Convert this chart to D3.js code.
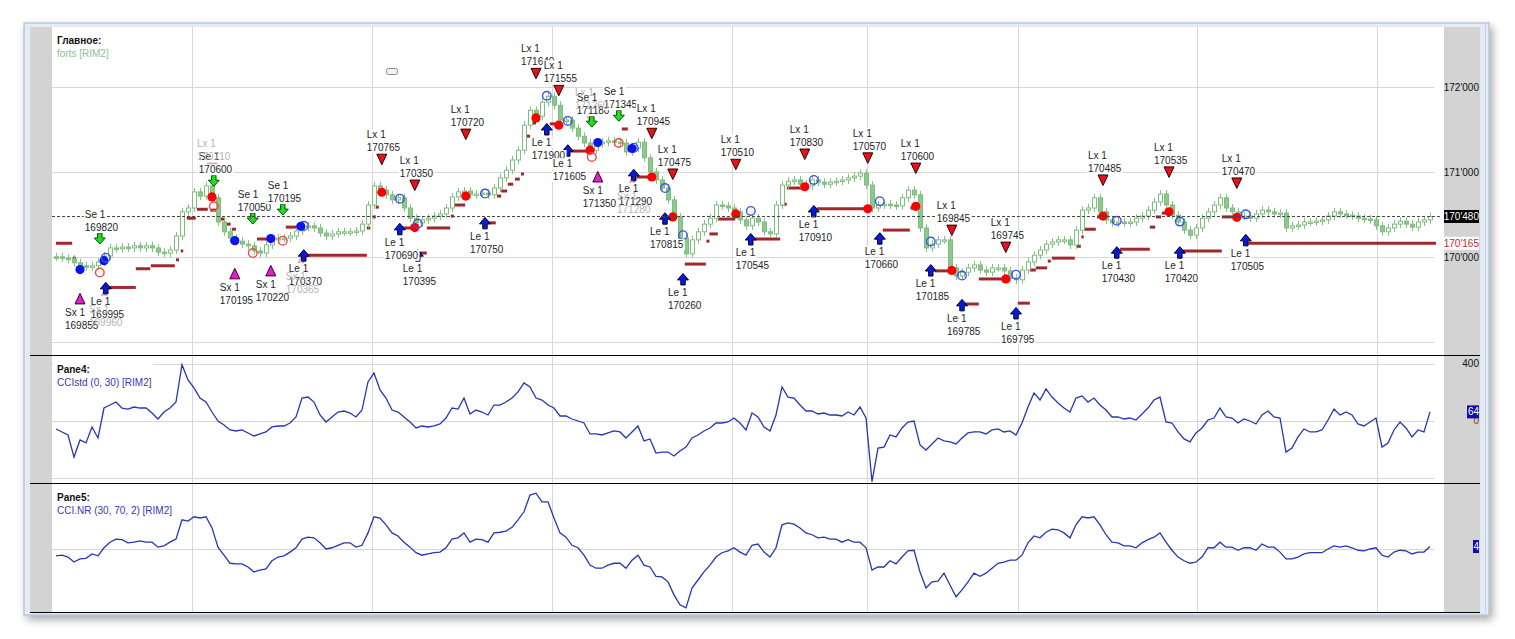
<!DOCTYPE html>
<html>
<head>
<meta charset="utf-8">
<script src="https://cdn.jsdelivr.net/npm/d3@7"></script>
<style>
  body { margin: 0; background: #fff; }
  svg { display: block; font-family: 'Liberation Sans', Arial, sans-serif; }
</style>
</head>
<body>
<script>
// closes of the RIM2 bars
const closes = [
  170005,169990,169980,169935,169900,169885,169900,169945,170015,170110,
  170100,170120,170110,170135,170110,170135,170110,170060,170050,170085,
  170250,170535,170580,170770,170720,170840,170700,170415,170300,170225,
  170190,170155,170135,170075,170050,170145,170205,170225,170225,170250,
  170310,170355,170370,170345,170285,170250,170275,170300,170300,170300,
  170310,170390,170615,170840,170790,170735,170675,170700,170580,170460,
  170405,170440,170460,170485,170510,170580,170710,170770,170780,170735,
  170745,170755,170735,170815,170935,171025,171145,171260,171555,171730,
  171660,171825,171895,171790,171615,171615,171520,171425,171345,171260,
  171335,171355,171370,171355,171345,171240,171285,171355,171170,171005,
  170910,170815,170675,170475,170225,170040,170205,170300,170390,170460,
  170615,170605,170580,170535,170440,170370,170460,170415,170300,170275,
  170615,170850,170895,170910,170860,170840,170910,170885,170860,170885,
  170895,170910,170935,170955,170990,170850,170580,170615,170625,170615,
  170605,170700,170790,170735,170345,170110,170155,170205,170205,169875,
  169780,169825,169875,169910,169850,169825,169875,169875,169840,169755,
  169735,169850,169945,170025,170085,170155,170180,170205,170205,170145,
  170320,170555,170580,170700,170535,170440,170405,170415,170405,170415,
  170460,170485,170555,170650,170745,170615,170495,170415,170320,170260,
  170345,170460,170535,170615,170700,170580,170535,170485,170485,170460,
  170510,170555,170535,170510,170520,170345,170370,170380,170415,170415,
  170425,170440,170485,170535,170510,170495,170485,170460,170450,170440,
  170370,170300,170345,170390,170425,170390,170355,170415,170440,170480
]

// CCIstd (0, 30)
const cciStd = [
  -56,-77,-98,-253,-133,-154,-42,-119,91,112,
  133,91,84,98,91,91,56,14,63,91,
  133,395,288,232,161,133,63,0,-28,-63,
  -70,-63,-84,-105,-91,-77,-42,-35,-35,-14,
  28,161,168,133,42,-7,28,63,70,56,
  28,77,274,337,218,161,77,63,28,-7,
  -49,-35,-42,-35,-21,21,91,84,161,49,
  77,63,42,112,112,133,161,204,267,239,
  161,147,112,91,35,35,14,0,-14,-91,
  -91,-98,-84,-70,-77,-119,-77,-35,-140,-126,
  -225,-218,-218,-246,-211,-183,-119,-98,-70,-49,
  -14,-14,-7,21,-14,-63,56,28,-42,-70,
  42,239,168,161,112,70,70,49,56,42,
  42,35,63,42,98,21,-425,-190,-183,-98,
  -112,-49,-7,0,-168,-204,-161,-119,-140,-147,
  -161,-119,-84,-77,-77,-91,-63,-56,-77,-70,
  -98,-14,98,197,147,225,168,126,91,63,
  161,176,133,161,112,77,28,28,14,21,
  7,49,91,147,168,-7,-14,-77,-126,-147,
  -84,-49,7,21,91,28,21,-14,14,0,
  -21,42,70,28,21,-218,-190,-112,-56,-77,
  -77,-63,7,84,42,63,42,-21,-35,-7,
  21,-183,-154,-63,-7,-49,-112,-63,-77,64
]

// CCI.NR (30, 70, 2)
const cciNr = [
  -11,-10,-13,-21,-16,-15,-8,-11,2,11,
  16,15,10,11,13,11,11,3,5,11,
  16,47,45,52,50,52,34,3,-10,-23,
  -24,-24,-29,-37,-34,-32,-19,-13,-11,-5,
  2,16,19,18,10,0,2,6,10,10,
  3,6,26,52,50,39,26,21,11,3,
  -6,-10,-8,-6,-5,2,16,18,26,11,
  16,15,11,26,27,29,35,47,60,87,
  90,76,76,50,26,19,6,2,-10,-26,
  -31,-31,-26,-23,-23,-31,-18,-10,-26,-29,
  -44,-45,-53,-74,-90,-95,-63,-50,-37,-26,
  -13,-6,-3,2,-5,-10,6,8,-5,-13,
  2,39,42,40,34,26,23,18,19,16,
  16,11,15,11,11,2,-34,-29,-29,-19,
  -24,-13,-3,-2,-37,-63,-53,-52,-39,-58,
  -77,-66,-53,-39,-44,-39,-31,-23,-21,-18,
  -18,-10,10,21,18,27,32,31,26,18,
  39,52,50,52,39,23,11,10,5,5,
  2,10,15,19,26,11,-2,-13,-19,-23,
  -21,-13,2,2,11,3,3,-2,2,2,
  -2,8,3,3,-5,-16,-16,-13,-8,-6,
  -6,-6,0,5,3,5,2,-2,-3,0,
  2,-10,-13,-5,-2,-3,-8,-5,-5,4
]

// session starts (bar positions of the vertical grid)
const sessionBars = [22.7, 52.7, 82.7, 112.7, 135.2, 160.3, 190.2, 220.2]

// trade signals: type, bar, fill price (label), marker price, faded
const sigType = ['Sx','Sx','Le','Se','Lx','Se','Se','Se','Sx','Sx','Le','Sx','Lx','Lx','Le','Le','Lx','Le',
  'Lx','Lx','Le','Le','Lx','Se','Se','Lx','Lx','Sx','Le','Sx','Le','Le','Lx','Le','Lx','Le','Lx','Le',
  'Lx','Lx','Le','Le','Lx','Le','Lx','Le','Lx','Le','Lx','Le']
const sigBar = [4,8,8.3,7.3,26,26.3,32.8,37.8,29.8,35.8,41.3,40.8,54.3,59.8,57.3,60.3,68.3,71.5,
  80,83.8,81.8,85.3,89,89.3,93.8,99.3,102.8,90.3,96.3,96,101.5,104.5,113.3,115.8,124.8,126.3,135.3,137.3,
  143.3,149.3,145.8,151,158.3,160,174.5,176.8,185.5,187.3,196.8,198.3]
const sigFill = [169855,169960,169995,169820,170710,170600,170050,170195,170195,170220,170370,170365,170765,170350,170690,170395,170720,170750,
  171640,171555,171900,171605,171260,171180,171345,170945,170475,171350,171290,171280,170815,170260,170510,170545,170830,170910,170570,170660,
  170600,169845,170185,169785,169745,169795,170485,170430,170535,170420,170470,170505]
const sigMark = [169510,169545,169640,170215,171050,170895,170450,170555,169805,169840,170025,169935,171155,170850,170335,170025,171450,170405,
  172165,171965,171510,171260,171650,171590,171660,171460,170980,170945,170970,170875,170460,169745,171095,170215,171215,170545,171170,170225,
  171050,170320,169850,169440,170120,169345,170910,170060,171005,170060,170875,170205]
const sigFaded = [0,1,0,0,1,0,0,0,0,0,0,1,0,0,0,0,0,0,
  0,0,0,0,1,0,0,0,0,0,0,1,0,0,0,0,0,0,0,0,
  0,0,0,0,0,0,0,0,0,0,0,0]

// stop levels: from bar, to bar, price
const stopFrom = [0,2.8,8.2,13.3,15.8,20,20.8,21.8,23.5,25.7,27.5,28.4,29.3,33.5,38.3,41.2,51.8,52.8,53.3,57.8,60.5,61.8,65.8,66.3,
  72,73.5,74.2,75.3,76.5,77.5,78,78.5,79,82.3,85.7,94.3,96.8,102.3,104.8,108.4,108.9,110.3,116.5,120.8,121.8,126.8,137.8,142.4,
  146.5,151.5,153.8,160.3,162.3,163.3,165.3,166,170,170.9,171.3,173.5,177.3,182.3,183.3,184.3,187.7,194.3,198.7]
const stopTo = [2.7,3.3,13.3,15.7,19.8,20.5,21.2,23.3,25.3,27.3,28.2,29.1,30,35.7,41,51.8,52.4,53.3,53.8,59.8,61.8,65.7,66.3,68.2,
  73.3,74.2,75.2,76.2,77.3,78,78.5,79,80,84,88.7,95.3,99,103.5,108.3,108.9,110.3,113.2,120.7,121.8,124.8,135.3,142.3,142.9,
  149.3,153.8,158.3,162.3,163.3,165.2,165.8,169.8,170.8,171.3,173.3,174.5,182.3,183.2,184.2,185.2,194.3,196.8,230]
const stopPrice = [170165,169990,169645,169865,169900,169970,170075,170460,170565,170555,170450,170390,170330,170215,170355,170025,170345,170475,170590,170345,170050,170345,170485,170615,
  170405,170720,170780,170860,170920,170980,171320,171425,171580,171570,171250,171510,170945,170475,169920,170190,170275,170450,170215,170625,170815,170570,170320,170580,
  169840,169450,169745,169460,169850,169875,169955,169990,170130,170240,170330,170475,170095,170355,170475,170520,170075,170475,170165]

const lastPrice = 170480
const lastStop = 170165
const priceGrid = [169000, 170000, 171000, 172000]
const priceTicks = [170000, 171000, 172000]
const cciGrid = [-400, 0, 400]
const cciTicks = [0, 400]
const nrGrid = [0]

const width = 1515
const height = 639

const x = d3.scaleLinear().domain([0, closes.length - 1]).range([56, 1430])
const yMain = d3.scaleLinear().domain([168850, 172710]).range([355, 27])
const yCci = d3.scaleLinear().domain([-435, 463]).range([483, 355])
const yNr = d3.scaleLinear().domain([-100, 100]).range([611, 487])
const fmt = d3.formatLocale({ decimal: '.', thousands: "'", grouping: [3], currency: ['', ''] }).format(',d')

const svg = d3.select('body').append('svg').attr('width', width).attr('height', height)

const defs = svg.append('defs')
defs.append('filter').attr('id', 'shadow')
  .attr('x', '-2%').attr('y', '-3%').attr('width', '104%').attr('height', '108%')
  .append('feDropShadow')
  .attr('dx', 3).attr('dy', 4).attr('stdDeviation', 4).attr('flood-opacity', 0.35)
defs.append('clipPath').attr('id', 'clipMain').append('rect')
  .attr('x', 52).attr('y', 27).attr('width', 1392).attr('height', 328)
defs.append('clipPath').attr('id', 'clipLow').append('rect')
  .attr('x', 52).attr('y', 355).attr('width', 1392).attr('height', 257)

// window frame
svg.append('rect').attr('x', 24).attr('y', 23).attr('width', 1465).attr('height', 592)
  .attr('fill', '#e4ebf5').attr('stroke', '#a3b5ce').attr('filter', 'url(#shadow)')
svg.append('line').attr('x1', 1485.5).attr('x2', 1485.5).attr('y1', 25).attr('y2', 613)
  .attr('stroke', '#c3d1e4')
svg.append('rect').attr('x', 30).attr('y', 27).attr('width', 22).attr('height', 585).attr('fill', '#d3d3d3')
svg.append('rect').attr('x', 52).attr('y', 27).attr('width', 1392).attr('height', 585).attr('fill', '#fff')
svg.append('rect').attr('x', 1444).attr('y', 27).attr('width', 36).attr('height', 585).attr('fill', '#d3d3d3')

// grid
const grid = svg.append('g').attr('stroke', '#d6d6d6').attr('stroke-width', 1)
grid.selectAll('.gx').data(sessionBars).join('line')
  .attr('x1', (d) => Math.round(x(d)) + 0.5).attr('x2', (d) => Math.round(x(d)) + 0.5)
  .attr('y1', 27).attr('y2', 612)
grid.selectAll('.gp').data(priceGrid).join('line')
  .attr('x1', 52).attr('x2', 1434)
  .attr('y1', (d) => Math.round(yMain(d)) + 0.5).attr('y2', (d) => Math.round(yMain(d)) + 0.5)
grid.selectAll('.gc').data(cciGrid).join('line')
  .attr('x1', 52).attr('x2', 1434)
  .attr('y1', (d) => Math.round(yCci(d)) + 0.5).attr('y2', (d) => Math.round(yCci(d)) + 0.5)
grid.selectAll('.gn').data(nrGrid).join('line')
  .attr('x1', 52).attr('x2', 1434)
  .attr('y1', (d) => Math.round(yNr(d)) + 0.5).attr('y2', (d) => Math.round(yNr(d)) + 0.5)

const main = svg.append('g').attr('clip-path', 'url(#clipMain)')

// stop levels
main.append('g').selectAll('line').data(stopPrice).join('line')
  .attr('x1', (d, i) => x(stopFrom[i])).attr('x2', (d, i) => x(stopTo[i]))
  .attr('y1', (d) => yMain(d)).attr('y2', (d) => yMain(d))
  .attr('stroke', '#a0282a').attr('stroke-width', 3)

// candles
const candle = main.append('g').selectAll('g').data(closes).join('g')
  .attr('transform', (d, i) => `translate(${Math.round(x(i))},0)`)
candle.append('line')
  .attr('x1', 0.5).attr('x2', 0.5)
  .attr('y1', (d, i) => Math.min(yMain(d), yMain(i ? closes[i - 1] : d)) - 4)
  .attr('y2', (d, i) => Math.max(yMain(d), yMain(i ? closes[i - 1] : d)) + 4)
  .attr('stroke', '#86c286')
candle.append('rect')
  .attr('x', -1.5).attr('width', 4)
  .attr('y', (d, i) => Math.min(yMain(d), yMain(i ? closes[i - 1] : d)))
  .attr('height', (d, i) => Math.max(1.5, Math.abs(yMain(d) - yMain(i ? closes[i - 1] : d))))
  .attr('fill', (d, i) => (i && d >= closes[i - 1] ? '#ffffff' : '#8dc98d'))
  .attr('stroke', '#7dbd7d').attr('stroke-width', 1)

// last price dashed line
svg.append('line').attr('x1', 52).attr('x2', 1440)
  .attr('y1', yMain(lastPrice)).attr('y2', yMain(lastPrice))
  .attr('stroke', '#444').attr('stroke-dasharray', '3,2')

// indicator panes
const low = svg.append('g').attr('clip-path', 'url(#clipLow)')
low.append('path').datum(cciStd)
  .attr('d', d3.line().x((d, i) => x(i)).y((d) => yCci(d)))
  .attr('fill', 'none').attr('stroke', '#2536b4').attr('stroke-width', 1.3)
low.append('path').datum(cciNr)
  .attr('d', d3.line().x((d, i) => x(i)).y((d) => yNr(d)))
  .attr('fill', 'none').attr('stroke', '#2536b4').attr('stroke-width', 1.3)

// fill circles
const circleStyle = {
  Lx: { fill: '#ff0000', stroke: 'none' },
  Le: { fill: 'none', stroke: '#3553f0' },
  Se: { fill: 'none', stroke: '#f04848' },
  Sx: { fill: '#0a14f0', stroke: 'none' }
}
main.append('g').selectAll('circle').data(sigFill).join('circle')
  .attr('cx', (d, i) => x(sigBar[i])).attr('cy', (d) => yMain(d))
  .attr('r', (d, i) => (circleStyle[sigType[i]].fill === 'none' ? 4.3 : 4.6))
  .attr('fill', (d, i) => circleStyle[sigType[i]].fill)
  .attr('stroke', (d, i) => circleStyle[sigType[i]].stroke)
  .attr('stroke-width', 1.4)

// signal markers
const shapes = {
  Lx: { d: 'M-5,-5H5L0,5.5Z', fill: '#e8101a', stroke: '#2a0000' },
  Se: { d: 'M-2.2,-6H2.2V-1H5.5L0,5L-5.5,-1H-2.2Z', fill: '#1ee01e', stroke: '#064d06' },
  Le: { d: 'M-2.2,6H2.2V1H5.5L0,-5.5L-5.5,1H-2.2Z', fill: '#0a1adc', stroke: '#000022' },
  Sx: { d: 'M0,-5.5L5,5H-5Z', fill: '#e020c8', stroke: '#3a0030' }
}
main.append('g').selectAll('path').data(sigMark).join('path')
  .attr('transform', (d, i) => `translate(${x(sigBar[i])},${yMain(d)})`)
  .attr('d', (d, i) => shapes[sigType[i]].d)
  .attr('fill', (d, i) => shapes[sigType[i]].fill)
  .attr('stroke', (d, i) => shapes[sigType[i]].stroke)
  .attr('opacity', (d, i) => (sigFaded[i] ? 0.35 : 1))

// signal labels
const labelLayer = svg.append('g').style('font-size', '10px')
const order = d3.range(sigType.length).sort((a, b) => sigFaded[a] - sigFaded[b])
order.forEach((i) => {
  const above = sigType[i] === 'Lx' || sigType[i] === 'Se'
  const g = labelLayer.append('g')
    .attr('transform', `translate(${x(sigBar[i]) - 15},${yMain(sigMark[i])})`)
  const lines = [`${sigType[i]} 1`, String(sigFill[i])]
  lines.forEach((t, k) => {
    const base = above ? -21 + k * 13 : 17 + k * 13
    const txt = g.append('text').attr('x', 0).attr('y', base).text(t)
      .attr('fill', sigFaded[i] ? '#b4b4b4' : '#1e1e28')
    if (!sigFaded[i]) {
      const bb = txt.node().getBBox()
      g.insert('rect', 'text:last-child')
        .attr('x', bb.x - 1).attr('y', bb.y).attr('width', bb.width + 2).attr('height', bb.height)
        .attr('fill', '#fff')
    }
  })
})

// small handle in the main pane
svg.append('rect').attr('x', 386.5).attr('y', 68.5).attr('width', 11).attr('height', 6).attr('rx', 2)
  .attr('fill', '#f2f2f2').attr('stroke', '#8a8a8a')

// pane headers
const headers = [
  { y: 44, title: 'Главное:', sub: 'forts [RIM2]', color: '#8fbf8f' },
  { y: 373, title: 'Pane4:', sub: 'CCIstd (0, 30) [RIM2]', color: '#3838b0' },
  { y: 501, title: 'Pane5:', sub: 'CCI.NR (30, 70, 2) [RIM2]', color: '#3838b0' }
]
headers.forEach((h) => {
  const g = svg.append('g').style('font-size', '10px')
  g.append('rect').attr('x', 53).attr('y', h.y - 11).attr('width', 100).attr('height', 28).attr('fill', '#fff')
  g.append('text').attr('x', 57).attr('y', h.y).attr('font-weight', 'bold').attr('fill', '#111').text(h.title)
  g.append('text').attr('x', 57).attr('y', h.y + 12.5).attr('fill', h.color).text(h.sub)
})

// right axis
const axis = svg.append('g').style('font-size', '10px').attr('text-anchor', 'end')
axis.selectAll('.tp').data(priceTicks).join('text')
  .attr('x', 1479).attr('y', (d) => yMain(d)).attr('dy', '0.35em').attr('fill', '#111').text(fmt)
axis.selectAll('.tc').data(cciTicks).join('text')
  .attr('x', 1479).attr('y', (d) => yCci(d)).attr('dy', '0.35em')
  .attr('fill', (d) => (d === 0 ? '#7a4a00' : '#111')).text(fmt)

function badge(yv, label, bg, fg, w) {
  axis.append('rect').attr('x', 1479 - w).attr('y', yv - 6.5).attr('width', w).attr('height', 13).attr('fill', bg)
  axis.append('text').attr('x', 1479).attr('y', yv).attr('dy', '0.35em').attr('fill', fg).text(label)
}
badge(yMain(lastPrice), fmt(lastPrice), '#000', '#fff', 35)
badge(yMain(lastStop), fmt(lastStop), '#fff', '#c0282d', 35)
badge(yCci(cciStd[cciStd.length - 1]), fmt(cciStd[cciStd.length - 1]), '#1010a8', '#fff', 12)
badge(yNr(cciNr[cciNr.length - 1]), fmt(cciNr[cciNr.length - 1]), '#1010a8', '#fff', 6)

// pane separators
svg.selectAll('.sep').data([355, 483, 612]).join('line')
  .attr('x1', 30).attr('x2', 1480).attr('y1', (d) => d + 0.5).attr('y2', (d) => d + 0.5)
  .attr('stroke', '#000').attr('stroke-width', 1.2)
</script>
</body>
</html>
